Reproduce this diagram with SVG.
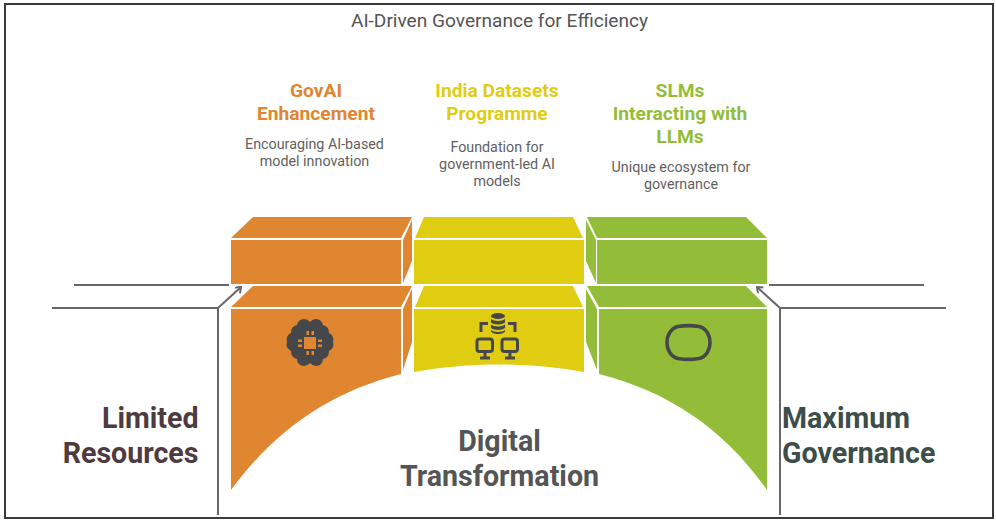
<svg xmlns="http://www.w3.org/2000/svg" width="996" height="521" viewBox="0 0 996 521">
<style>
text{font-family:Roboto,"Liberation Sans",sans-serif}
.t{font-size:19.100px;fill:#555;text-anchor:middle}
.h{font-size:19.200px;font-weight:700;text-anchor:middle}
.d{font-size:14.300px;fill:#5f5f5f;text-anchor:middle}
.b{font-size:28.600px;font-weight:700}
.o{fill:#e08530}.y{fill:#e0cd12}.g{fill:#93bd39}
.c{fill:none;stroke:#67676b;stroke-width:2}
.i{fill:#46474b}
.il{fill:none;stroke:#46474b;stroke-width:3}
</style>
<defs>
<marker id="a" markerWidth="10" markerHeight="10" refX="6.500" refY="4" orient="auto" markerUnits="userSpaceOnUse"><path d="M1.500 0L6.500 4L1.500 8" fill="none" stroke="#67676b" stroke-width="2"/></marker>
</defs>
<rect x="5" y="4" width="988" height="514" fill="#fff" stroke="#3a3a3a" stroke-width="2"/>
<text class="t" x="499.500" y="27">AI-Driven Governance for Efficiency</text>
<g id="connectors">
<path class="c" d="M74 285H229"/>
<path class="c" d="M52 308H218V515"/>
<path class="c" d="M218 308L241 287" marker-end="url(#a)"/>
<path class="c" d="M769 285H924"/>
<path class="c" d="M946 308H780V515"/>
<path class="c" d="M780 308L757 287" marker-end="url(#a)"/>
</g>
<g id="node-govai">
<path class="o" d="M253 217H412L401 238H231Z"/>
<path class="o" d="M231 240H401V284H231Z"/>
<path class="o" d="M412 220V261L403 283V240Z"/>
<path class="o" d="M253 286H412L401 307H231Z"/>
<path class="o" d="M412 289V342L403 370V309Z"/>
<path class="o" d="M231 309H401V374C330 392 275 430 231 490Z"/>
<text class="h" x="316" y="97" fill="#e08530">GovAI</text>
<text class="h" x="316" y="120" fill="#e08530">Enhancement</text>
<text class="d" x="314.500" y="149">Encouraging AI-based</text>
<text class="d" x="314.500" y="166">model innovation</text>
<path class="i" d="M304 319a8 8 0 0 1 6 3a8 8 0 0 1 6-3a7 7 0 0 1 7 6a8 8 0 0 1 6 8a7 7 0 0 1 4 9a7 7 0 0 1-4 9a8 8 0 0 1-6 8a7 7 0 0 1-7 7a8 8 0 0 1-6-3a8 8 0 0 1-6 3a7 7 0 0 1-7-7a8 8 0 0 1-6-8a7 7 0 0 1-4-9a7 7 0 0 1 4-9a8 8 0 0 1 6-8a7 7 0 0 1 7-6Z"/>
<path class="o" d="M304 337h12v12h-12ZM306.500 331h2.500v4h-2.500ZM311.500 331h2.500v4h-2.500ZM306.500 351h2.500v4h-2.500ZM311.500 351h2.500v4h-2.500ZM298 339.500h4v2.500h-4ZM298 344.500h4v2.500h-4ZM318 339.500h4v2.500h-4ZM318 344.500h4v2.500h-4Z"/>
</g>
<g id="node-datasets">
<path class="y" d="M424 217H573L583 238H415Z"/>
<path class="y" d="M414 240H584V284H414Z"/>
<path class="y" d="M424 286H573L583 307H415Z"/>
<path class="y" d="M414 309H584V372C530 362 468 362 414 372Z"/>
<text class="h" x="497" y="97" fill="#e0cd12">India Datasets</text>
<text class="h" x="497" y="120" fill="#e0cd12">Programme</text>
<text class="d" x="497" y="152">Foundation for</text>
<text class="d" x="497" y="169">government-led AI</text>
<text class="d" x="497" y="186">models</text>
<ellipse class="i" cx="498" cy="316" rx="7" ry="3"/>
<path class="i" d="M491 319c3 2.500 11 2.500 14 0v3.500c-3 2.500-11 2.500-14 0ZM491 324.500c3 2.500 11 2.500 14 0v3.500c-3 2.500-11 2.500-14 0ZM491 330c3 2.500 11 2.500 14 0v1c0 4-14 4-14 0Z"/>
<path class="il" d="M488 323.500H481V332M508 323.500H515V332"/>
<rect class="il" x="477" y="339" width="15.500" height="12.500" rx="2.500"/>
<rect class="il" x="502" y="339" width="15.500" height="12.500" rx="2.500"/>
<path class="il" d="M485 351V357M480 358H490M510 351V357M505 358H515"/>
</g>
<g id="node-slms">
<path class="g" d="M587 217H746L767 238H597Z"/>
<path class="g" d="M597 240H767V284H597Z"/>
<path class="g" d="M586 220V261L596 283V240Z"/>
<path class="g" d="M587 286H746L767 307H599Z"/>
<path class="g" d="M586 289V342L597 370V309Z"/>
<path class="g" d="M599 309H767V490C725 430 670 392 599 374Z"/>
<text class="h" x="680" y="97" fill="#93bd39">SLMs</text>
<text class="h" x="680" y="120" fill="#93bd39">Interacting with</text>
<text class="h" x="680" y="143" fill="#93bd39">LLMs</text>
<text class="d" x="681" y="172">Unique ecosystem for</text>
<text class="d" x="681" y="189">governance</text>
<path class="il" style="stroke-width:3.500" d="M678 326.500C684 325.500 693 325.500 699 326.500C706 328 710 335 710 342.500C710 350 706 357 699 358.500C693 359.500 684 359.500 678 358.500C671 357 667 350 667 342.500C667 335 671 328 678 326.500Z"/>
</g>
<g id="node-limited">
<text class="b" x="198.500" y="427.500" text-anchor="end" fill="#4f3a3f">Limited</text>
<text class="b" x="198.500" y="462.500" text-anchor="end" fill="#4f3a3f">Resources</text>
</g>
<g id="node-digital">
<text class="b" x="499.500" y="451" text-anchor="middle" fill="#555">Digital</text>
<text class="b" x="499.500" y="486" text-anchor="middle" fill="#555">Transformation</text>
</g>
<g id="node-maximum">
<text class="b" x="782" y="427.500" fill="#3c4d4a">Maximum</text>
<text class="b" x="782" y="462.500" fill="#3c4d4a">Governance</text>
</g>
</svg>
